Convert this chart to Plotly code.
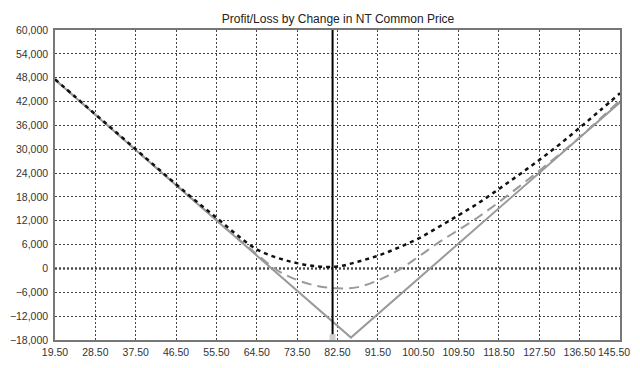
import plotly.graph_objects as go

# Data
x_expiry = [19.5, 85.5, 145.5]
pl_expiry = [47500, -17400, 41800]

price = [19.5, 24, 28.5, 33, 37.5, 42, 46.5, 51, 55.5, 60, 64.5, 69, 73.5, 78,
         82.5, 87, 91.5, 96, 100.5, 105, 109.5, 114, 118.5, 123, 127.5, 132,
         136.5, 141, 145.5]
pl_near = [47500, 43100, 38700, 34300, 29800, 25400, 21000, 16600, 12200, 7800,
           3600, -400, -2900, -4400, -5000, -4700, -3000, -500, 2900, 6500,
           9700, 13000, 16700, 20600, 24600, 28700, 33000, 37600, 42300]
pl_far = [47600, 43200, 38800, 34400, 30000, 25600, 21200, 16900, 12800, 8500,
          4800, 2700, 1350, 520, 480, 1700, 3200, 5200, 7500, 10400, 13400,
          16500, 20000, 23600, 27300, 31200, 35400, 39700, 44100]

current_price = 81.4

x_ticks = [19.5 + 9 * i for i in range(15)]
x_labels = [f"{v:.2f}" for v in x_ticks]
y_ticks = [-18000 + 6000 * i for i in range(14)]

font_family = "Liberation Sans, Arial, sans-serif"

fig = go.Figure()

fig.add_trace(go.Scatter(x=x_expiry, y=pl_expiry, mode="lines",
                         line=dict(color="#9a9a9a", width=2), showlegend=False))
fig.add_trace(go.Scatter(x=price, y=pl_near, mode="lines", line_shape="spline",
                         line=dict(color="#9a9a9a", width=2, dash="10px,6px"),
                         showlegend=False))
fig.add_trace(go.Scatter(x=price, y=pl_far, mode="lines", line_shape="spline",
                         line=dict(color="#111111", width=2.5, dash="4px,4px"),
                         showlegend=False))
# current price vertical line
fig.add_trace(go.Scatter(x=[current_price, current_price], y=[-18000, 60000],
                         mode="lines", line=dict(color="#000000", width=2),
                         showlegend=False))
fig.add_trace(go.Scatter(x=[current_price], y=[-17300], mode="markers",
                         marker=dict(symbol="square", size=6, color="#cfcfcf"),
                         showlegend=False, cliponaxis=False))

# page body has an 8px margin, so the figure is 632x360 placed at (8, 8)
fig.update_layout(
    width=632, height=360,
    margin=dict(l=47, r=20, t=22, b=28),
    paper_bgcolor="white", plot_bgcolor="white",
    font=dict(family=font_family, size=10.5, color="#333333"),
    title=dict(text="Profit/Loss by Change in NT Common Price", x=(338 - 8) / 632,
               xref="container", xanchor="center",
               yref="container", y=1 - 11 / 360, yanchor="middle",
               font=dict(family=font_family, size=12, color="#222222")),
    showlegend=False,
)
fig.update_xaxes(range=[19.5, 145.5], tickvals=x_ticks[:-1], ticktext=x_labels[:-1],
                 automargin=False,
                 showgrid=True, gridcolor="#444444", griddash="2px,2px", gridwidth=1,
                 showline=True, linecolor="#777777", linewidth=1.5, mirror=True,
                 zeroline=False, ticks="", ticklabelstandoff=2)
fig.update_yaxes(range=[-18000, 60000], tickvals=y_ticks, tickformat=",d",
                 automargin=False,
                 showgrid=True, gridcolor="#444444", griddash="2px,2px", gridwidth=1,
                 showline=True, linecolor="#777777", linewidth=1.5, mirror=True,
                 zeroline=False, ticks="", ticklabelstandoff=3)
fig.add_hline(y=0, line=dict(color="#000000", width=2, dash="2px,2px"), layer="below")
# last x tick label, kept inside the page like the reference
fig.add_annotation(x=x_ticks[-1], xref="x", y=0, yref="paper", text=x_labels[-1],
                   showarrow=False, xanchor="right", yanchor="top", xshift=12,
                   yshift=-4, font=dict(family=font_family, size=10.5, color="#333333"))

fig.write_html("out.html")
